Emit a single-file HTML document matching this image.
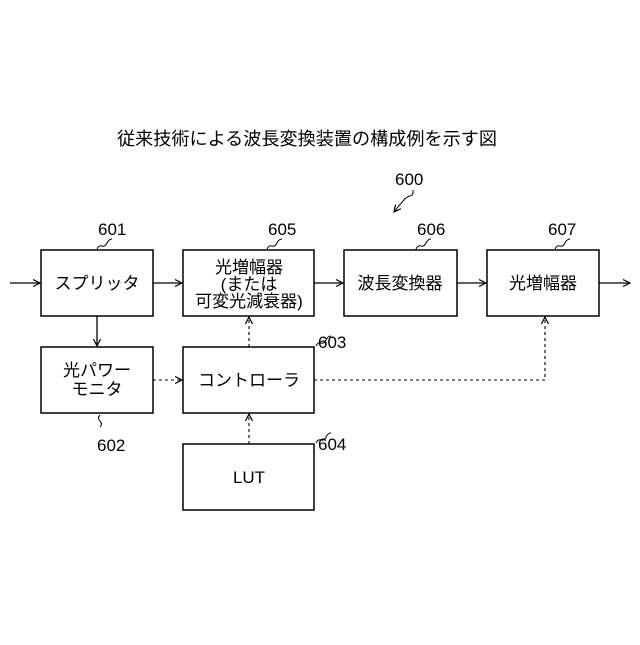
<!DOCTYPE html>
<html><head><meta charset="utf-8"><style>body{margin:0;background:#fff}</style></head><body>
<svg width="640" height="640" xmlns="http://www.w3.org/2000/svg" font-family="Liberation Sans, Noto Sans CJK JP, sans-serif" fill="#000">
<defs><marker id="a" markerWidth="8" markerHeight="8" refX="7" refY="4" orient="auto" markerUnits="userSpaceOnUse"><path d="M0,0.5 L7,4 L0,7.5" fill="none" stroke="#000" stroke-width="1.2"/></marker></defs>
<text x="307" y="145" font-size="18" text-anchor="middle" textLength="380" lengthAdjust="spacingAndGlyphs">従来技術による波長変換装置の構成例を示す図</text>
<g fill="none" stroke="#000" stroke-width="1.5">
<rect x="41" y="250" width="112" height="66"/>
<rect x="183" y="250" width="131" height="66"/>
<rect x="344" y="250" width="113" height="66"/>
<rect x="487" y="250" width="112" height="66"/>
<rect x="41" y="347" width="112" height="66"/>
<rect x="183" y="347" width="131" height="66"/>
<rect x="183" y="444" width="131" height="66"/>
</g>
<g stroke="#000" stroke-width="1.3" fill="none" marker-end="url(#a)">
<line x1="10" y1="283" x2="40" y2="283"/>
<line x1="153" y1="283" x2="182" y2="283"/>
<line x1="314" y1="283" x2="343" y2="283"/>
<line x1="457" y1="283" x2="486" y2="283"/>
<line x1="599" y1="283" x2="630" y2="283"/>
<line x1="97" y1="316" x2="97" y2="346"/>
</g>
<g stroke="#000" stroke-width="1.1" fill="none" stroke-dasharray="3,3" marker-end="url(#a)">
<line x1="153" y1="380" x2="182" y2="380"/>
<line x1="249" y1="347" x2="249" y2="317"/>
<line x1="249" y1="444" x2="249" y2="414"/>
<polyline points="314,380 545,380 545,317"/>
</g>
<g font-size="17" text-anchor="middle">
<text x="97" y="289">スプリッタ</text>
<text x="249" y="273">光増幅器</text>
<text x="249" y="290">(または</text>
<text x="249" y="307">可変光減衰器)</text>
<text x="400" y="289">波長変換器</text>
<text x="543" y="289">光増幅器</text>
<text x="97" y="376">光パワー</text>
<text x="97" y="395">モニタ</text>
<text x="249" y="386">コントローラ</text>
<text x="249" y="483">LUT</text>
</g>
<g font-size="17">
<text x="98" y="235">601</text>
<text x="268" y="235">605</text>
<text x="417" y="235">606</text>
<text x="548" y="235">607</text>
<text x="395" y="185">600</text>
<text x="318" y="348">603</text>
<text x="97" y="451">602</text>
<text x="318" y="450">604</text>
</g>
<g fill="none" stroke="#000" stroke-width="1">
<path d="M97,249 q2,-4 5,-3 q3,1 5,-3 q2,-4 5,-4"/>
<path d="M267,249 q2,-4 5,-3 q3,1 5,-3 q2,-4 5,-4"/>
<path d="M416,249 q2,-4 5,-3 q3,1 5,-3 q2,-4 5,-4"/>
<path d="M555,249 q2,-4 5,-3 q3,1 5,-3 q2,-4 5,-4"/>
<path d="M316,346 q2,-4 5,-3 q3,1 5,-3 q2,-4 5,-4"/>
<path d="M316,443 q2,-4 5,-3 q3,1 5,-3 q2,-4 5,-4"/>
<path d="M100,415 q-3,3 0,6 q3,3 0,6"/>
<path d="M413,190 q1,5 -3,6 q-4,1 -6,4 q-3,3 -10,12" marker-end="url(#a)"/>
</g>
</svg>
</body></html>
